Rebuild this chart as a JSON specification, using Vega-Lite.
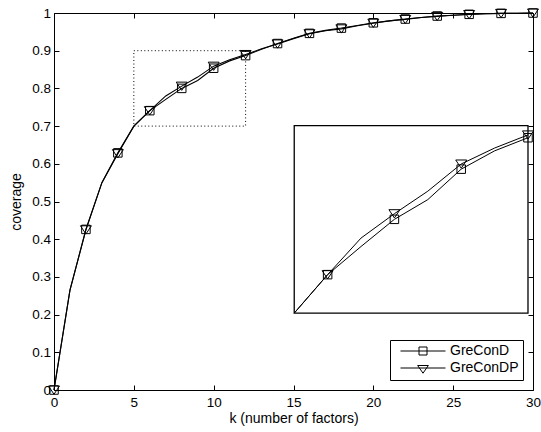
{
  "$schema": "https://vega.github.io/schema/vega-lite/v6.json",
  "width": 479,
  "height": 377,
  "autosize": {"type": "none"},
  "padding": {"left": 54, "top": 13, "right": 8, "bottom": 42},
  "background": "white",
  "config": {
    "view": {"stroke": null},
    "font": "Liberation Sans",
    "axis": {
      "zindex": 1,
      "grid": false,
      "domainColor": "black",
      "domainWidth": 1,
      "tickColor": "black",
      "tickWidth": 1,
      "tickSize": -5,
      "labelColor": "black",
      "labelFontSize": 13.5,
      "labelFont": "Liberation Sans",
      "labelFlush": false,
      "labelOverlap": false,
      "titleColor": "black",
      "titleFont": "Liberation Sans",
      "titleFontSize": 14,
      "titleFontWeight": "normal"
    }
  },
  "datasets": {
    "zoomwindow": [
      {"kFrom": 5, "kTo": 12, "covFrom": 0.7, "covTo": 0.9}
    ],
    "cov": [
      {"k": 0, "method": "GreConD", "coverage": 0},
      {"k": 1, "method": "GreConD", "coverage": 0.265},
      {"k": 2, "method": "GreConD", "coverage": 0.426},
      {"k": 3, "method": "GreConD", "coverage": 0.55},
      {"k": 4, "method": "GreConD", "coverage": 0.629},
      {"k": 5, "method": "GreConD", "coverage": 0.7},
      {"k": 6, "method": "GreConD", "coverage": 0.741},
      {"k": 7, "method": "GreConD", "coverage": 0.771},
      {"k": 8, "method": "GreConD", "coverage": 0.8},
      {"k": 9, "method": "GreConD", "coverage": 0.821},
      {"k": 10, "method": "GreConD", "coverage": 0.8535},
      {"k": 11, "method": "GreConD", "coverage": 0.873},
      {"k": 12, "method": "GreConD", "coverage": 0.887},
      {"k": 13, "method": "GreConD", "coverage": 0.904},
      {"k": 14, "method": "GreConD", "coverage": 0.919},
      {"k": 15, "method": "GreConD", "coverage": 0.933},
      {"k": 16, "method": "GreConD", "coverage": 0.946},
      {"k": 17, "method": "GreConD", "coverage": 0.954},
      {"k": 18, "method": "GreConD", "coverage": 0.96},
      {"k": 19, "method": "GreConD", "coverage": 0.967},
      {"k": 20, "method": "GreConD", "coverage": 0.974},
      {"k": 21, "method": "GreConD", "coverage": 0.979},
      {"k": 22, "method": "GreConD", "coverage": 0.984},
      {"k": 23, "method": "GreConD", "coverage": 0.988},
      {"k": 24, "method": "GreConD", "coverage": 0.992},
      {"k": 25, "method": "GreConD", "coverage": 0.994},
      {"k": 26, "method": "GreConD", "coverage": 0.9965},
      {"k": 27, "method": "GreConD", "coverage": 0.998},
      {"k": 28, "method": "GreConD", "coverage": 0.999},
      {"k": 29, "method": "GreConD", "coverage": 0.9995},
      {"k": 30, "method": "GreConD", "coverage": 1},
      {"k": 0, "method": "GreConDP", "coverage": 0},
      {"k": 1, "method": "GreConDP", "coverage": 0.265},
      {"k": 2, "method": "GreConDP", "coverage": 0.425},
      {"k": 3, "method": "GreConDP", "coverage": 0.55},
      {"k": 4, "method": "GreConDP", "coverage": 0.627},
      {"k": 5, "method": "GreConDP", "coverage": 0.7},
      {"k": 6, "method": "GreConDP", "coverage": 0.741},
      {"k": 7, "method": "GreConDP", "coverage": 0.78},
      {"k": 8, "method": "GreConDP", "coverage": 0.806},
      {"k": 9, "method": "GreConDP", "coverage": 0.83},
      {"k": 10, "method": "GreConDP", "coverage": 0.859},
      {"k": 11, "method": "GreConDP", "coverage": 0.876},
      {"k": 12, "method": "GreConDP", "coverage": 0.89},
      {"k": 13, "method": "GreConDP", "coverage": 0.905},
      {"k": 14, "method": "GreConDP", "coverage": 0.918},
      {"k": 15, "method": "GreConDP", "coverage": 0.932},
      {"k": 16, "method": "GreConDP", "coverage": 0.945},
      {"k": 17, "method": "GreConDP", "coverage": 0.953},
      {"k": 18, "method": "GreConDP", "coverage": 0.958},
      {"k": 19, "method": "GreConDP", "coverage": 0.966},
      {"k": 20, "method": "GreConDP", "coverage": 0.973},
      {"k": 21, "method": "GreConDP", "coverage": 0.979},
      {"k": 22, "method": "GreConDP", "coverage": 0.983},
      {"k": 23, "method": "GreConDP", "coverage": 0.988},
      {"k": 24, "method": "GreConDP", "coverage": 0.991},
      {"k": 25, "method": "GreConDP", "coverage": 0.994},
      {"k": 26, "method": "GreConDP", "coverage": 0.996},
      {"k": 27, "method": "GreConDP", "coverage": 0.998},
      {"k": 28, "method": "GreConDP", "coverage": 0.999},
      {"k": 29, "method": "GreConDP", "coverage": 0.9995},
      {"k": 30, "method": "GreConDP", "coverage": 1}
    ]
  },
  "data": {"name": "cov"},
  "resolve": {"scale": {"x": "independent", "y": "independent"}},
  "layer": [
    {
      "encoding": {
        "x": {
          "field": "k",
          "type": "quantitative",
          "scale": {"domain": [0, 30], "nice": false, "zero": false},
          "axis": {
            "orient": "bottom",
            "values": [0, 5, 10, 15, 20, 25, 30],
            "labelPadding": 10,
            "title": "k (number of factors)",
            "titlePadding": 3
          }
        },
        "y": {
          "field": "coverage",
          "type": "quantitative",
          "scale": {"domain": [0, 1], "nice": false, "zero": false},
          "axis": {
            "orient": "left",
            "values": [0, 0.1, 0.2, 0.3, 0.4, 0.5, 0.6, 0.7, 0.8, 0.9, 1],
            "format": "~g",
            "labelPadding": 8.5,
            "title": "coverage",
            "titlePadding": 8.5
          }
        }
      },
      "layer": [
        {
          "mark": {"type": "line", "color": "black", "strokeWidth": 1.1},
          "encoding": {"detail": {"field": "method"}}
        },
        {
          "transform": [{"filter": "datum.k % 2 == 0 && datum.method == 'GreConD'"}],
          "mark": {"type": "point", "shape": "M-0.85,-0.85H0.85V0.85H-0.85Z", "size": 100, "filled": false, "color": "black", "strokeWidth": 1, "opacity": 1}
        },
        {
          "transform": [{"filter": "datum.k % 2 == 0 && datum.method == 'GreConDP'"}],
          "mark": {"type": "point", "shape": "M-1.1,-0.8H1.1L0,0.85Z", "size": 100, "filled": false, "color": "black", "strokeWidth": 1, "opacity": 1}
        },
        {
          "mark": {"type": "point", "filled": false, "color": "black", "opacity": 0, "size": 100},
          "encoding": {
            "shape": {
              "field": "method",
              "type": "nominal",
              "scale": {
                "domain": ["GreConD", "GreConDP"],
                "range": ["M-4.5,0H4.5M-0.8,-0.8H0.8V0.8H-0.8Z", "M-4.5,0H4.5M-1.07,-0.5H1.07L0,1.04Z"]
              },
              "legend": {
                "title": null,
                "orient": "bottom-right",
                "offset": 10,
                "padding": 4,
                "rowPadding": 3,
                "labelFontSize": 14,
                "labelFont": "Liberation Sans",
                "labelColor": "black",
                "strokeColor": "black",
                "fillColor": "white",
                "symbolSize": 100,
                "symbolStrokeWidth": 1,
                "symbolStrokeColor": "black",
                "symbolOpacity": 1,
                "symbolOffset": 22,
                "labelOffset": 20
              }
            }
          }
        },
        {
          "data": {"name": "zoomwindow"},
          "mark": {"type": "rect", "filled": false, "color": "black", "strokeWidth": 1, "strokeDash": [1, 2.5]},
          "encoding": {
            "x": {"field": "kFrom", "type": "quantitative"},
            "x2": {"field": "kTo"},
            "y": {"field": "covFrom", "type": "quantitative"},
            "y2": {"field": "covTo"}
          }
        }
      ]
    },
    {
      "data": {"name": "zoomwindow"},
      "mark": {"type": "point", "opacity": 0},
      "encoding": {
        "x": {
          "field": "kFrom",
          "type": "quantitative",
          "scale": {"domain": [0, 30], "nice": false, "zero": false},
          "axis": {"orient": "top", "labels": false, "title": null, "values": [0, 5, 10, 15, 20, 25, 30]}
        },
        "y": {
          "field": "covFrom",
          "type": "quantitative",
          "scale": {"domain": [0, 1], "nice": false, "zero": false},
          "axis": {"orient": "right", "labels": false, "title": null, "values": [0, 0.1, 0.2, 0.3, 0.4, 0.5, 0.6, 0.7, 0.8, 0.9, 1]}
        }
      }
    },
    {
      "layer": [
        {
          "data": {"name": "zoomwindow"},
          "mark": {"type": "rect", "fill": "white", "stroke": "black", "strokeWidth": 1.3},
          "encoding": {
            "x": {"field": "kFrom", "type": "quantitative", "scale": {"domain": [-2.194, 12.15], "nice": false, "zero": false}, "axis": null},
            "x2": {"field": "kTo"},
            "y": {"field": "covFrom", "type": "quantitative", "scale": {"domain": [0.618, 1.02], "nice": false, "zero": false}, "axis": null},
            "y2": {"field": "covTo"}
          }
        },
        {
          "transform": [{"filter": "datum.k >= 5 && datum.k <= 12"}],
          "encoding": {
            "x": {"field": "k", "type": "quantitative", "axis": null},
            "y": {"field": "coverage", "type": "quantitative", "axis": null}
          },
          "layer": [
            {
              "mark": {"type": "line", "color": "black", "strokeWidth": 1},
              "encoding": {"detail": {"field": "method"}}
            },
            {
              "transform": [{"filter": "datum.k % 2 == 0 && datum.method == 'GreConD'"}],
              "mark": {"type": "point", "shape": "M-0.85,-0.85H0.85V0.85H-0.85Z", "size": 100, "filled": false, "color": "black", "strokeWidth": 1, "opacity": 1}
            },
            {
              "transform": [{"filter": "datum.k % 2 == 0 && datum.method == 'GreConDP'"}],
              "mark": {"type": "point", "shape": "M-1.1,-0.8H1.1L0,0.85Z", "size": 100, "filled": false, "color": "black", "strokeWidth": 1, "opacity": 1}
            }
          ]
        }
      ]
    }
  ]
}
